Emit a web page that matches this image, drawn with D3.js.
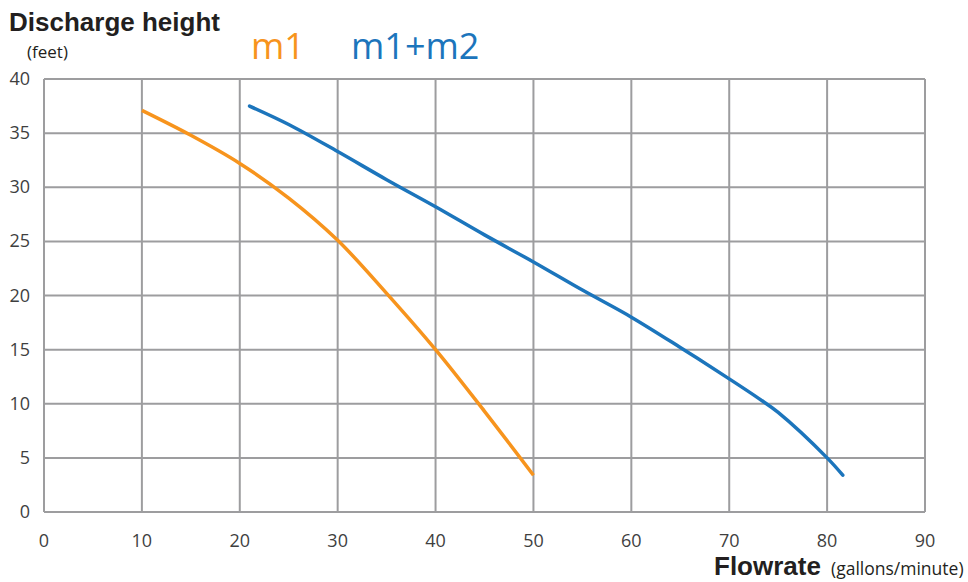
<!DOCTYPE html>
<html>
<head>
<meta charset="utf-8">
<script src="https://cdn.jsdelivr.net/npm/d3@7"></script>
<style>
  body { margin: 0; background: #fff; }
  text { font-family: "Open Sans", sans-serif; }
</style>
</head>
<body>
<div id="chart"></div>
<script>
// flowrate (gallons/minute) vs discharge height (feet)
const xTicks = [0, 10, 20, 30, 40, 50, 60, 70, 80, 90];
const yTicks = [0, 5, 10, 15, 20, 25, 30, 35, 40];

const m1 = [
  [10, 37.1], [15, 34.8], [20, 32.2], [25, 29.0], [30, 25.1],
  [35, 20.2], [40, 15.0], [45, 9.3], [50, 3.4]
];
const m1m2 = [
  [21, 37.5], [25, 35.8], [30, 33.3], [35, 30.7], [40, 28.2],
  [45, 25.6], [50, 23.1], [55, 20.5], [60, 18.0], [65, 15.2], [70, 12.3],
  [73, 10.5], [75, 9.2], [80, 5.0], [81.6, 3.4]
];

const width = 968, height = 582;
const svg = d3.select("#chart").append("svg")
  .attr("width", width).attr("height", height);

const x = d3.scaleLinear().domain([0, 90]).range([44, 925]);
const y = d3.scaleLinear().domain([0, 40]).range([512, 79]);

// grid
svg.append("g").selectAll("line").data(xTicks).enter().append("line")
  .attr("x1", d => x(d)).attr("x2", d => x(d))
  .attr("y1", y(0)).attr("y2", y(40))
  .style("stroke", "#9d9d9f").style("stroke-width", 2);
svg.append("g").selectAll("line").data(yTicks).enter().append("line")
  .attr("x1", x(0)).attr("x2", x(90))
  .attr("y1", d => y(d)).attr("y2", d => y(d))
  .style("stroke", "#9d9d9f").style("stroke-width", 2);

// tick labels
svg.append("g").selectAll("text").data(yTicks).enter().append("text")
  .attr("x", 30).attr("y", d => y(d) + 6)
  .attr("text-anchor", "end")
  .style("font-size", "18px").style("fill", "#3f3f3f")
  .text(d => d);
svg.append("g").selectAll("text").data(xTicks).enter().append("text")
  .attr("x", d => x(d)).attr("y", 547)
  .attr("text-anchor", "middle")
  .style("font-size", "18px").style("fill", "#3f3f3f")
  .text(d => d);

// curves
const line = d3.line().x(d => x(d[0])).y(d => y(d[1])).curve(d3.curveCatmullRom.alpha(0.5));
svg.append("path").datum(m1).attr("d", line)
  .style("fill", "none").style("stroke", "#f7941d").style("stroke-width", 3.5);
svg.append("path").datum(m1m2).attr("d", line)
  .style("fill", "none").style("stroke", "#1c75bc").style("stroke-width", 3.5)
  .style("stroke-linecap", "round");

// titles
svg.append("text").attr("x", 9).attr("y", 31)
  .style("font-family", "'Liberation Sans', Arial, sans-serif")
  .style("font-weight", "bold").style("font-size", "26px").style("fill", "#231f20")
  .text("Discharge height");
svg.append("text").attr("x", 27).attr("y", 58)
  .style("font-size", "17px").style("fill", "#231f20")
  .text("(feet)");

// legend
svg.append("text").attr("x", 251).attr("y", 59)
  .style("font-size", "36px").style("fill", "#f7941d")
  .text("m1");
svg.append("text").attr("x", 351).attr("y", 59)
  .style("font-size", "36px").style("fill", "#1c75bc")
  .text("m1+m2");

// x title
svg.append("text").attr("x", 714).attr("y", 575)
  .style("font-family", "'Liberation Sans', Arial, sans-serif")
  .style("font-weight", "bold").style("font-size", "26px").style("fill", "#231f20")
  .text("Flowrate");
svg.append("text").attr("x", 831).attr("y", 575)
  .style("font-size", "17.5px").style("fill", "#231f20")
  .text("(gallons/minute)");
</script>
</body>
</html>
